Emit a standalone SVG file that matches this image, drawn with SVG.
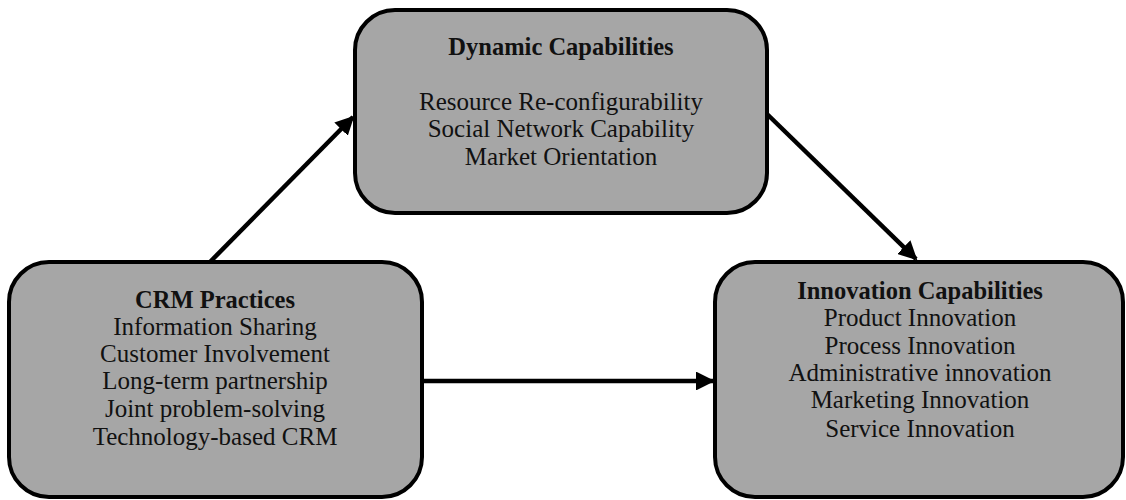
<svg xmlns="http://www.w3.org/2000/svg" width="1126" height="500" viewBox="0 0 1126 500">
<defs>
<style>
.box{fill:#a6a6a6;stroke:#000;stroke-width:4}
.t{font-family:"Liberation Serif","Times New Roman",serif;font-size:25px;fill:#111;text-anchor:middle}
.h{font-weight:bold;font-size:24.5px}
.c{stroke:#000;stroke-width:4.5;fill:none}
</style>
<marker id="ah" viewBox="0 0 10 10" refX="9" refY="5" markerWidth="4.2" markerHeight="4.2" markerUnits="strokeWidth" orient="auto">
<path d="M0,0 L10,5 L0,10 z" fill="#000"/>
</marker>
</defs>
<rect width="1126" height="500" fill="#fff"/>
<g id="connectors">
<line class="c" x1="210" y1="262" x2="353" y2="117" marker-end="url(#ah)"/>
<line class="c" x1="767" y1="114" x2="916" y2="259" marker-end="url(#ah)"/>
<line class="c" x1="422" y1="381" x2="713" y2="381" marker-end="url(#ah)"/>
</g>
<g id="dynamic">
<rect class="box" x="355" y="10" width="412" height="203" rx="40"/>
<text class="t h" x="561" y="55">Dynamic Capabilities</text>
<text class="t" x="561" y="110">Resource Re-configurability</text>
<text class="t" x="561" y="137">Social Network Capability</text>
<text class="t" x="561" y="165">Market Orientation</text>
</g>
<g id="crm">
<rect class="box" x="9" y="262" width="413" height="235" rx="40"/>
<text class="t h" x="215" y="308">CRM Practices</text>
<text class="t" x="215" y="335">Information Sharing</text>
<text class="t" x="215" y="362">Customer Involvement</text>
<text class="t" x="215" y="389">Long-term partnership</text>
<text class="t" x="215" y="417">Joint problem-solving</text>
<text class="t" x="215" y="445">Technology-based CRM</text>
</g>
<g id="innovation">
<rect class="box" x="715" y="262" width="408" height="235" rx="40"/>
<text class="t h" x="920" y="299">Innovation Capabilities</text>
<text class="t" x="920" y="326">Product Innovation</text>
<text class="t" x="920" y="354">Process Innovation</text>
<text class="t" x="920" y="381">Administrative innovation</text>
<text class="t" x="920" y="408">Marketing Innovation</text>
<text class="t" x="920" y="437">Service Innovation</text>
</g>
</svg>
